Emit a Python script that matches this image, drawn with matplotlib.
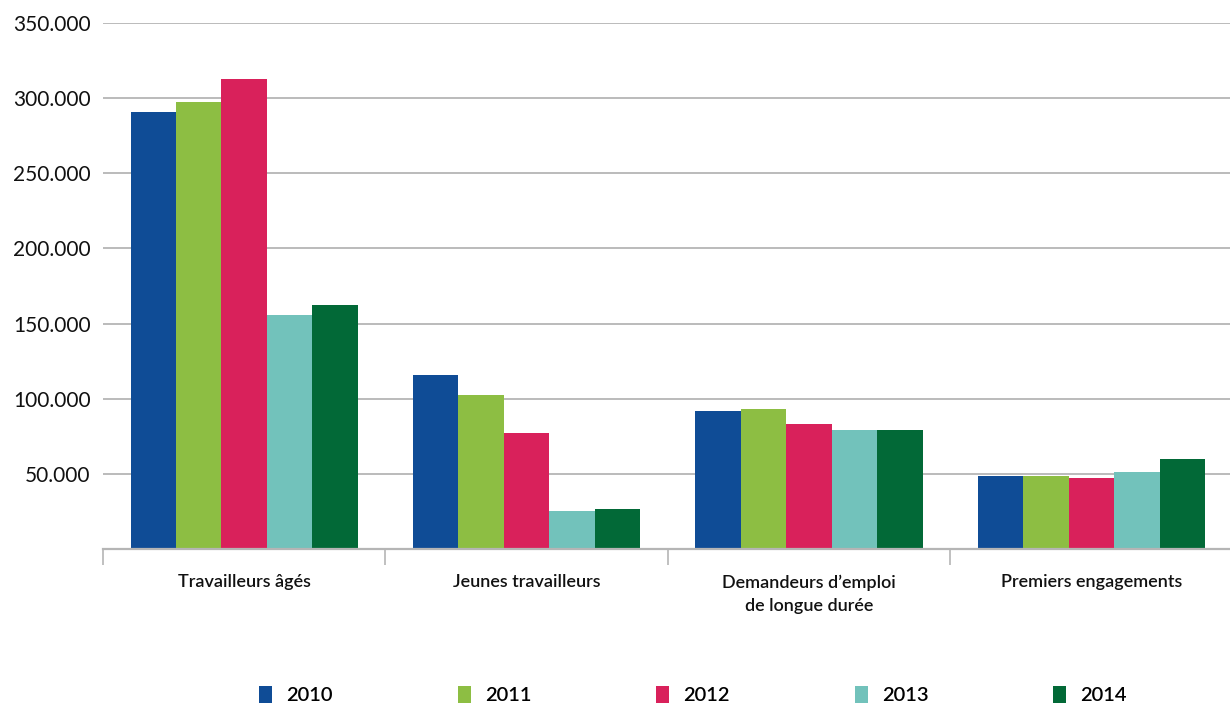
import matplotlib
matplotlib.use("Agg")
import matplotlib.pyplot as plt
import numpy as np
from matplotlib.ticker import FixedLocator, FuncFormatter

categories = ["Travailleurs âgés", "Jeunes travailleurs",
              "Demandeurs d\u2019emploi\nde longue durée", "Premiers engagements"]
years = ["2010", "2011", "2012", "2013", "2014"]
v2010 = [290600, 115800, 91700, 48500]
v2011 = [297300, 102500, 93000, 48500]
v2012 = [312600, 77200, 83500, 47300]
v2013 = [155700, 25400, 79000, 51700]
v2014 = [162700, 26600, 79000, 60000]
series = [v2010, v2011, v2012, v2013, v2014]
colors = ["#0f4c96", "#8dbe43", "#d9215b", "#72c2bb", "#026937"]
yticks = [50000, 100000, 150000, 200000, 250000, 300000, 350000]

plt.rcParams['font.family'] = ['Lato', 'DejaVu Sans']

fig = plt.figure(figsize=(12.3, 7.07), dpi=100)
ax = fig.add_axes([103/1230, 1-549.3/707, 1129.6/1230, (549.3-22.7)/707])

x = np.arange(len(categories))
w = 0.161
for i, (vals, c, y) in enumerate(zip(series, colors, years)):
    ax.bar(x + (i-2)*w, vals, width=w, color=c, label=y, zorder=3, linewidth=0)

ax.set_xlim(-0.5, 3.5)
ax.set_ylim(0, 350000)
ax.yaxis.set_major_locator(FixedLocator(yticks))
ax.yaxis.set_major_formatter(FuncFormatter(lambda v, p: f"{int(v):,}".replace(",", ".")))
ax.grid(axis='y', color='#a8a8a8', linewidth=1.1, zorder=0)
ax.tick_params(axis='y', length=0, pad=9, labelsize=15, labelcolor='#111111')

ax.xaxis.set_major_locator(FixedLocator([-0.5, 0.5, 1.5, 2.5, 3.5]))
ax.xaxis.set_major_formatter(FuncFormatter(lambda v, p: ""))
ax.xaxis.set_minor_locator(FixedLocator(list(x)))
ax.set_xticklabels(categories, minor=True, fontweight='semibold')
ax.tick_params(axis='x', which='major', length=11.5, width=1.2, color='#b5b5b5')
ax.tick_params(axis='x', which='minor', length=0, pad=18, labelsize=13, labelcolor='#111111')
for lab in ax.get_xticklabels(minor=True):
    lab.set_linespacing(1.55)
    lab.set_verticalalignment('top')

for s in ['left', 'right', 'top']:
    ax.spines[s].set_visible(False)
ax.spines['bottom'].set_color('#b5b5b5')
ax.spines['bottom'].set_linewidth(1.6)
ax.spines['bottom'].set_zorder(4)

leg = fig.legend(loc='center', bbox_to_anchor=(693/1230, 1-695/707), ncol=5, frameon=False,
                 fontsize=14.5, handlelength=0.65, handleheight=0.9, handletextpad=0.7,
                 columnspacing=6.2, borderaxespad=0)
for t in leg.get_texts():
    t.set_fontweight('semibold')

fig.savefig("out.png", dpi=100)
